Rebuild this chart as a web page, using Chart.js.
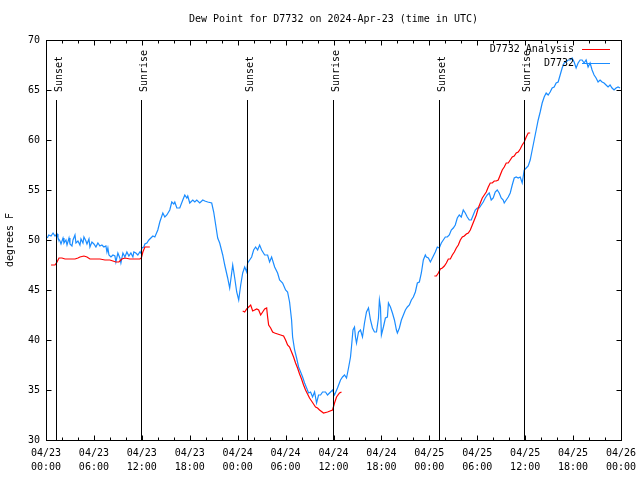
<!DOCTYPE html>
<html>
<head>
<meta charset="utf-8">
<title>Dew Point for D7732</title>
<script src="https://cdn.jsdelivr.net/npm/chart.js@4/dist/chart.umd.min.js"></script>
<style>
  html, body { margin: 0; padding: 0; background: #fff; }
  #wrap { width: 640px; height: 480px; }
</style>
</head>
<body>
<div id="wrap"><canvas id="dewChart" width="640" height="480"></canvas></div>
<script>
// hours since 2024-04-23 00:00 UTC, dew point in degrees F
const d7732 = [
  [0.16,50.2],[0.34,50.5],[0.63,50.4],[0.88,50.7],[1.13,50.4],[1.38,50.6],[1.5,50.2],[1.75,49.9],[1.88,49.6],[2.13,50.2],
  [2.25,49.7],[2.5,50.0],[2.63,49.5],[2.88,50.2],[3.0,49.6],[3.25,49.4],[3.38,50.0],[3.63,50.5],[3.75,49.7],[4.0,49.9],
  [4.25,49.5],[4.38,50.1],[4.63,49.7],[4.75,50.3],[5.0,49.9],[5.13,49.6],[5.38,50.1],[5.5,49.3],[5.75,49.8],[6.0,49.6],
  [6.25,49.3],[6.5,49.7],[6.75,49.4],[7.0,49.5],[7.25,49.3],[7.5,49.4],[7.63,48.8],[7.75,49.2],[7.88,48.5],[8.13,48.3],
  [8.38,48.5],[8.63,48.4],[8.75,47.8],[9.0,48.7],[9.25,48.2],[9.38,47.7],[9.63,48.7],[9.88,48.3],[10.13,48.8],[10.38,48.4],
  [10.63,48.7],[10.88,48.3],[11.0,48.8],[11.25,48.7],[11.5,48.5],[11.75,48.8],[11.88,48.7],[12.0,49.2],[12.25,49.3],[12.38,49.6],
  [12.63,49.7],[12.88,50.0],[13.13,50.2],[13.38,50.4],[13.63,50.3],[14.0,51.0],[14.25,51.8],[14.63,52.7],[14.88,52.3],[15.13,52.5],
  [15.5,53.0],[15.75,53.8],[16.0,53.6],[16.13,53.8],[16.38,53.2],[16.75,53.2],[17.13,54.0],[17.38,54.5],[17.63,54.2],[17.75,54.4],
  [18.0,53.7],[18.38,54.0],[18.63,53.8],[18.88,54.0],[19.25,53.7],[19.63,54.0],[19.88,53.9],[20.25,53.8],[20.75,53.7],[21.0,52.8],
  [21.25,51.5],[21.5,50.2],[21.75,49.7],[22.13,48.5],[22.38,47.5],[22.75,46.2],[23.0,45.2],[23.25,46.7],[23.38,47.5],[23.63,46.2],
  [23.88,44.8],[24.13,44.0],[24.38,45.5],[24.63,46.7],[24.88,47.3],[25.13,46.8],[25.25,47.7],[25.5,48.0],[25.75,48.3],[26.0,49.0],
  [26.25,49.3],[26.5,49.0],[26.75,49.5],[27.0,49.0],[27.38,48.5],[27.75,48.5],[28.0,47.8],[28.25,48.3],[28.63,47.3],[29.0,46.7],
  [29.25,46.0],[29.63,45.7],[30.0,45.0],[30.25,44.8],[30.5,43.8],[30.75,42.0],[30.88,40.3],[31.13,39.0],[31.38,38.2],[31.63,37.3],
  [31.88,36.8],[32.13,36.3],[32.38,35.7],[32.63,35.2],[32.88,34.7],[33.13,34.8],[33.38,34.3],[33.63,34.8],[33.88,33.7],[34.13,34.5],
  [34.38,34.5],[34.63,34.8],[35.0,34.8],[35.25,34.5],[35.5,34.7],[35.88,35.0],[36.13,34.5],[36.5,35.2],[36.88,36.0],[37.13,36.3],
  [37.38,36.5],[37.63,36.2],[37.88,37.2],[38.13,38.3],[38.25,39.3],[38.44,41.0],[38.63,41.3],[38.75,40.3],[38.88,39.7],[39.13,40.8],
  [39.38,41.0],[39.63,40.3],[39.88,41.7],[40.13,42.8],[40.38,43.2],[40.63,42.0],[40.88,41.2],[41.13,40.8],[41.38,40.8],[41.63,42.2],
  [41.75,44.0],[41.88,43.3],[42.0,40.5],[42.25,41.3],[42.5,42.2],[42.75,42.3],[42.88,43.7],[43.13,43.3],[43.38,42.7],[43.63,42.0],
  [43.88,41.0],[44.0,40.7],[44.25,41.2],[44.5,42.0],[44.75,42.5],[45.0,43.0],[45.25,43.3],[45.5,43.5],[45.75,44.0],[46.0,44.3],
  [46.25,44.8],[46.5,45.7],[46.75,45.8],[47.0,46.7],[47.25,48.0],[47.5,48.5],[47.63,48.3],[47.88,48.2],[48.13,47.8],[48.38,48.2],
  [48.75,48.8],[49.0,49.3],[49.25,49.2],[49.5,49.7],[49.75,50.0],[50.0,50.3],[50.25,50.3],[50.5,50.5],[50.75,51.0],[51.0,51.2],
  [51.25,51.5],[51.5,52.2],[51.75,52.5],[52.0,52.3],[52.25,53.0],[52.5,52.7],[52.75,52.3],[53.0,52.0],[53.25,52.0],[53.5,52.5],
  [53.75,53.0],[54.0,53.2],[54.25,53.2],[54.5,53.5],[54.75,53.8],[55.0,54.2],[55.25,54.5],[55.5,54.7],[55.75,54.0],[56.0,54.2],
  [56.25,54.8],[56.5,55.0],[56.75,54.7],[57.0,54.2],[57.25,54.0],[57.38,53.7],[57.63,54.0],[57.88,54.3],[58.13,54.7],[58.38,55.5],
  [58.63,56.2],[58.88,56.3],[59.13,56.2],[59.38,56.3],[59.63,55.7],[59.88,57.0],[60.13,57.2],[60.38,57.4],[60.63,58.0],[60.88,59.0],
  [61.13,60.0],[61.38,61.0],[61.63,62.0],[61.88,62.8],[62.13,63.7],[62.38,64.3],[62.63,64.7],[62.88,64.5],[63.13,64.8],[63.38,65.2],
  [63.63,65.3],[63.88,65.7],[64.13,65.8],[64.38,66.5],[64.63,67.2],[64.88,67.7],[65.13,67.8],[65.38,68.0],[65.63,68.0],[65.88,68.2],
  [66.13,67.8],[66.38,67.2],[66.63,67.7],[66.88,68.0],[67.13,68.0],[67.38,67.7],[67.63,68.0],[67.88,67.3],[68.13,67.7],[68.38,67.0],
  [68.63,66.5],[68.88,66.2],[69.13,65.8],[69.38,66.0],[69.63,65.8],[69.88,65.7],[70.13,65.5],[70.38,65.3],[70.63,65.5],[70.88,65.2],
  [71.13,65.0],[71.38,65.2],[71.63,65.3],[71.88,65.2]
];

// analysis runs, one array per run
const analysisRun1 = [
  [0.63,47.5],[1.13,47.5],[1.38,47.8],[1.63,48.2],[2.0,48.2],[2.38,48.1],[3.0,48.1],[3.63,48.1],[4.0,48.2],[4.25,48.3],
  [4.75,48.4],[5.13,48.3],[5.5,48.1],[6.13,48.1],[6.75,48.1],[7.38,48.0],[8.0,48.0],[8.38,47.9],[8.75,47.8],[9.13,47.8],
  [9.5,48.1],[9.88,48.2],[10.5,48.1],[11.13,48.1],[11.75,48.1],[11.94,48.2],[12.13,48.8],[12.38,49.3],[12.63,49.3],[13.0,49.3]
];
const analysisRun2 = [
  [24.63,42.9],[24.88,42.8],[25.13,43.1],[25.38,43.3],[25.63,43.5],[25.88,42.9],[26.13,43.0],[26.38,43.1],[26.63,43.0],[26.88,42.5],
  [27.13,42.8],[27.38,43.1],[27.63,43.2],[27.75,42.3],[27.88,41.5],[28.13,41.2],[28.38,40.8],[28.63,40.7],[29.0,40.6],[29.38,40.5],
  [29.75,40.4],[30.0,40.0],[30.25,39.5],[30.5,39.3],[30.75,38.8],[31.0,38.3],[31.25,37.7],[31.5,37.2],[31.75,36.6],[32.0,36.1],
  [32.25,35.5],[32.5,35.0],[32.75,34.6],[33.0,34.2],[33.25,33.9],[33.5,33.6],[33.75,33.3],[34.0,33.2],[34.25,33.0],[34.75,32.7],
  [35.25,32.8],[35.88,33.0],[36.13,33.7],[36.38,34.3],[36.75,34.7],[37.0,34.8]
];
const analysisRun3 = [
  [48.63,46.4],[48.88,46.4],[49.13,46.7],[49.38,47.1],[49.63,47.2],[49.88,47.4],[50.13,47.7],[50.38,48.1],[50.63,48.1],[50.88,48.5],
  [51.13,48.8],[51.38,49.2],[51.63,49.5],[51.88,50.0],[52.13,50.3],[52.38,50.4],[52.63,50.6],[52.88,50.7],[53.13,51.0],[53.38,51.5],
  [53.63,52.0],[53.88,52.5],[54.13,53.2],[54.38,53.7],[54.63,54.2],[54.88,54.5],[55.13,54.8],[55.38,55.3],[55.63,55.7],[55.88,55.7],
  [56.13,55.9],[56.38,55.9],[56.63,56.0],[56.88,56.5],[57.13,57.0],[57.38,57.3],[57.63,57.7],[57.88,57.7],[58.13,58.0],[58.38,58.3],
  [58.63,58.4],[58.88,58.7],[59.13,58.8],[59.38,59.1],[59.63,59.5],[59.88,59.8],[60.13,60.3],[60.38,60.7],[60.63,60.7]
];

const sunHours = [1.29, 11.91, 25.16, 35.96, 49.16, 59.84];
const sunLabels = ["Sunset", "Sunrise", "Sunset", "Sunrise", "Sunset", "Sunrise"];
const sunLineTop = 64;

const xTickHours = [0, 6, 12, 18, 24, 30, 36, 42, 48, 54, 60, 66, 72];
const xTickLabels = [
  ["04/23", "00:00"], ["04/23", "06:00"], ["04/23", "12:00"], ["04/23", "18:00"],
  ["04/24", "00:00"], ["04/24", "06:00"], ["04/24", "12:00"], ["04/24", "18:00"],
  ["04/25", "00:00"], ["04/25", "06:00"], ["04/25", "12:00"], ["04/25", "18:00"],
  ["04/26", "00:00"]
];
const yTicks = [30, 35, 40, 45, 50, 55, 60, 65, 70];

const seriesNames = ["D7732 Analysis", "D7732"];
const seriesColors = ["#ff0000", "#1a8cff"];

const FONT_FAMILY = "'DejaVu Sans Mono', 'Liberation Mono', monospace";
const FONT = "10px " + FONT_FAMILY;

function toPoints(pairs) {
  return pairs.map(p => ({ x: p[0], y: p[1] }));
}

// runs joined with null points so the line breaks between them
const analysisPoints = toPoints(analysisRun1)
  .concat([{ x: 18, y: null }], toPoints(analysisRun2))
  .concat([{ x: 42, y: null }], toPoints(analysisRun3));

const overlay = {
  id: "overlay",
  afterDatasetsDraw(chart) {
    const { ctx, chartArea: a, scales: { x, y } } = chart;
    ctx.save();
    ctx.strokeStyle = "#000";
    ctx.fillStyle = "#000";
    ctx.lineWidth = 1;
    ctx.font = FONT;

    // sunrise / sunset markers
    const top = Math.round(y.getPixelForValue(sunLineTop));
    sunHours.forEach((h, i) => {
      const px = Math.round(x.getPixelForValue(h)) + 0.5;
      ctx.beginPath();
      ctx.moveTo(px, a.bottom);
      ctx.lineTo(px, top);
      ctx.stroke();
      ctx.save();
      ctx.translate(px + 5, top - 8);
      ctx.rotate(-Math.PI / 2);
      ctx.textAlign = "left";
      ctx.textBaseline = "alphabetic";
      ctx.fillText(sunLabels[i], 0, 0);
      ctx.restore();
    });

    // frame
    const L = Math.round(a.left) + 0.5, R = Math.round(a.right) + 0.5;
    const T = Math.round(a.top) + 0.5, B = Math.round(a.bottom) + 0.5;
    ctx.strokeRect(L, T, R - L, B - T);

    // inward tick marks
    ctx.beginPath();
    for (let h = 0; h <= 72; h += 2) {
      const px = Math.round(x.getPixelForValue(h)) + 0.5;
      const len = h % 6 === 0 ? 5 : 3;
      ctx.moveTo(px, B); ctx.lineTo(px, B - len);
      ctx.moveTo(px, T); ctx.lineTo(px, T + len);
    }
    yTicks.forEach(v => {
      const py = Math.round(y.getPixelForValue(v)) + 0.5;
      ctx.moveTo(L, py); ctx.lineTo(L + 5, py);
      ctx.moveTo(R, py); ctx.lineTo(R - 5, py);
    });
    ctx.stroke();

    // legend, top right
    ctx.textAlign = "right";
    ctx.textBaseline = "middle";
    seriesNames.forEach((name, i) => {
      const ly = Math.round(a.top) + 9 + i * 14;
      ctx.fillStyle = "#000";
      ctx.fillText(name, a.right - 47, ly);
      ctx.strokeStyle = seriesColors[i];
      ctx.beginPath();
      ctx.moveTo(a.right - 39, ly + 0.5);
      ctx.lineTo(a.right - 11, ly + 0.5);
      ctx.stroke();
    });
    ctx.restore();
  }
};

new Chart(document.getElementById("dewChart").getContext("2d"), {
  type: "line",
  data: {
    datasets: [
      {
        label: seriesNames[0],
        data: analysisPoints,
        borderColor: seriesColors[0],
        borderWidth: 1.2,
        pointRadius: 0,
        spanGaps: false,
        tension: 0
      },
      {
        label: seriesNames[1],
        data: toPoints(d7732),
        borderColor: seriesColors[1],
        borderWidth: 1.2,
        pointRadius: 0,
        tension: 0
      }
    ]
  },
  options: {
    responsive: false,
    animation: false,
    devicePixelRatio: 1,
    layout: { padding: { left: 0, right: 19, top: 0, bottom: 0 } },
    plugins: {
      legend: { display: false },
      tooltip: { enabled: false },
      title: {
        display: true,
        text: "Dew Point for D7732 on 2024-Apr-23 (time in UTC)",
        color: "#000",
        fullSize: false,
        font: { family: FONT_FAMILY, size: 10, weight: "normal", lineHeight: 1.2 },
        padding: { top: 13, bottom: 15 }
      }
    },
    scales: {
      x: {
        type: "linear",
        min: 0,
        max: 72,
        grid: { display: false, drawTicks: false },
        border: { display: false },
        afterBuildTicks: s => { s.ticks = xTickHours.map(v => ({ value: v })); },
        afterFit: s => {
          s.height = 40;
          // the edge labels fit in the margins already
          s.paddingLeft = 0;
          s.paddingRight = 0;
        },
        ticks: {
          autoSkip: false,
          maxRotation: 0,
          padding: 6,
          color: "#000",
          font: { family: FONT_FAMILY, size: 10, lineHeight: 1.4 },
          callback: v => xTickLabels[xTickHours.indexOf(v)]
        }
      },
      y: {
        min: 30,
        max: 70,
        grid: { display: false, drawTicks: false },
        border: { display: false },
        afterBuildTicks: s => { s.ticks = yTicks.map(v => ({ value: v })); },
        afterFit: s => { s.width = 46; },
        ticks: {
          padding: 6,
          color: "#000",
          font: { family: FONT_FAMILY, size: 10 }
        },
        title: {
          display: true,
          text: "degrees F",
          color: "#000",
          font: { family: FONT_FAMILY, size: 10, lineHeight: 1.2 },
          padding: { top: 4, bottom: 4 }
        }
      }
    }
  },
  plugins: [overlay]
});
</script>
</body>
</html>
